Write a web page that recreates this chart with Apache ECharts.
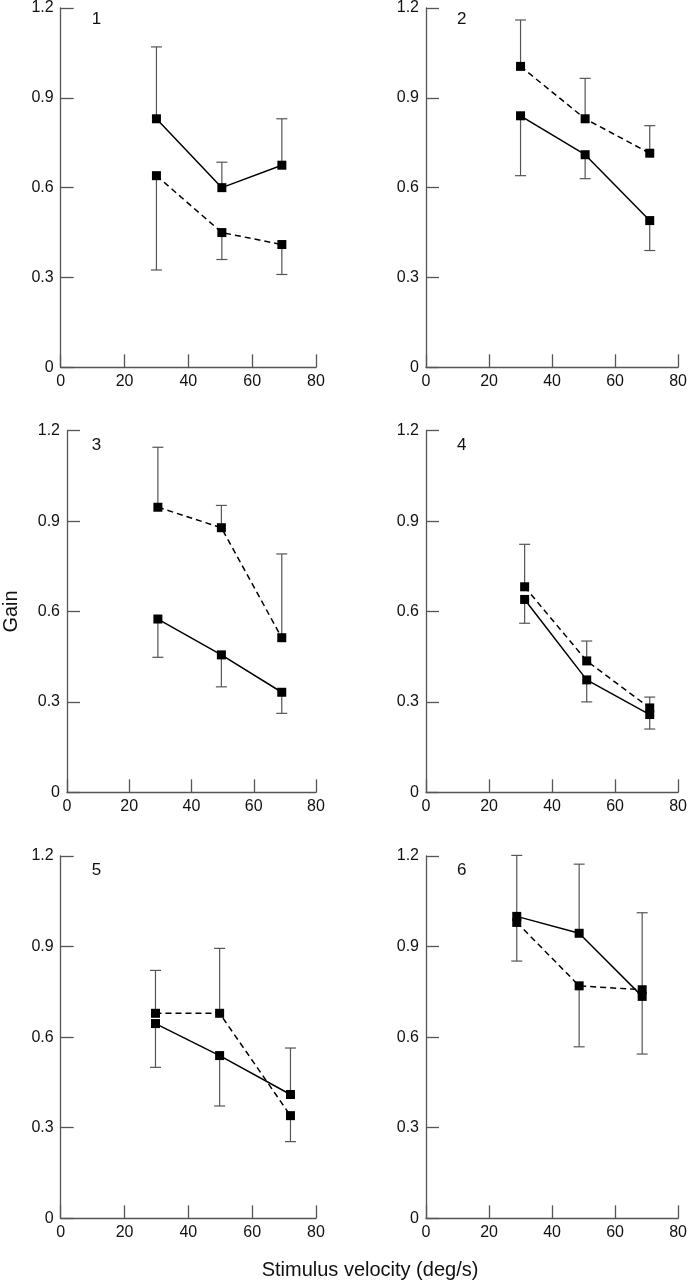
<!DOCTYPE html>
<html>
<head>
<meta charset="utf-8">
<script src="https://cdn.jsdelivr.net/npm/echarts@6/dist/echarts.min.js"></script>
<style>
html,body{margin:0;padding:0;background:#fff;}
#c{width:690px;height:1280px;}
</style>
</head>
<body>
<div id="c"></div>
<script>
// ---- data ----
const panelNames = ['1', '2', '3', '4', '5', '6'];
const xTicks = [0, 20, 40, 60, 80];
const yTicks = [0, 0.3, 0.6, 0.9, 1.2];

// stimulus velocity (deg/s) of each point, per panel
const velocity = [
  [30, 50.5, 69.3],
  [30, 50.5, 71],
  [29.2, 49.6, 69],
  [31.3, 51, 71],
  [29.7, 49.8, 72],
  [28.8, 48.6, 68.6]
];
// solid-line gain, per panel
const solidGain = [
  [0.83, 0.60, 0.675],
  [0.84, 0.71, 0.49],
  [0.575, 0.456, 0.332],
  [0.64, 0.373, 0.258],
  [0.645, 0.539, 0.41],
  [1.0, 0.944, 0.735]
];
// end of the solid-line error bar
const solidErrEnd = [
  [1.07, 0.685, 0.83],
  [0.64, 0.63, 0.39],
  [0.448, 0.35, 0.262],
  [0.561, 0.30, 0.21],
  [0.50, 0.372, 0.564],
  [1.202, 1.173, 1.012]
];
// dashed-line gain, per panel
const dashedGain = [
  [0.64, 0.45, 0.41],
  [1.005, 0.83, 0.715],
  [0.946, 0.878, 0.513],
  [0.682, 0.436, 0.28],
  [0.679, 0.679, 0.34],
  [0.98, 0.77, 0.757]
];
// end of the dashed-line error bar
const dashedErrEnd = [
  [0.325, 0.36, 0.31],
  [1.16, 0.965, 0.807],
  [1.145, 0.952, 0.791],
  [0.823, 0.502, 0.316],
  [0.821, 0.894, 0.254],
  [0.852, 0.568, 0.544]
];
const xAxisTitle = 'Stimulus velocity (deg/s)';
const yAxisTitle = 'Gain';

// ---- layout ----
const colLeft = [60.7, 426];
const colWidth = [255.3, 255.7];
const rowTop = [5, 430.7, 856];
const rowHeight = [362.3, 361.6, 362.3];
const axisColor = '#555';
const errColor = '#555';

const chart = echarts.init(document.getElementById('c'), null, {renderer: 'canvas'});

const grids = [], xAxes = [], yAxes = [], series = [], titles = [];

function errRender(params, api) {
  const p = api.coord([api.value(0), api.value(1)]);
  const e = api.coord([api.value(0), api.value(2)]);
  const cap = 5.5;
  const st = {stroke: errColor, lineWidth: 1.2};
  return {
    type: 'group',
    children: [
      {type: 'line', shape: {x1: p[0], y1: p[1], x2: e[0], y2: e[1]}, style: st},
      {type: 'line', shape: {x1: e[0] - cap, y1: e[1], x2: e[0] + cap, y2: e[1]}, style: st}
    ]
  };
}

for (let i = 0; i < 6; i++) {
  const col = i % 2, row = Math.floor(i / 2);
  grids.push({left: colLeft[col], top: rowTop[row], width: colWidth[col], height: rowHeight[row], containLabel: false});
  xAxes.push({
    gridIndex: i, type: 'value',
    min: xTicks[0], max: xTicks[xTicks.length - 1], interval: xTicks[1] - xTicks[0],
    axisLine: {show: true, onZero: false, lineStyle: {color: axisColor, width: 1.3}},
    axisTick: {show: true, inside: true, length: 13, lineStyle: {color: axisColor, width: 1.3}},
    axisLabel: {show: true, fontSize: 16, color: '#111', margin: 6, fontFamily: 'Liberation Sans, Arial, sans-serif'},
    splitLine: {show: false}
  });
  yAxes.push({
    gridIndex: i, type: 'value',
    min: yTicks[0], max: yTicks[yTicks.length - 1], interval: yTicks[1] - yTicks[0],
    axisLine: {show: true, onZero: false, lineStyle: {color: axisColor, width: 1.3}},
    axisTick: {show: true, inside: true, length: 13, lineStyle: {color: axisColor, width: 1.3}},
    axisLabel: {show: true, fontSize: 16, color: '#111', margin: 7, fontFamily: 'Liberation Sans, Arial, sans-serif',
      formatter: v => String(Math.round(v * 10) / 10)},
    splitLine: {show: false},
    name: i === 2 ? yAxisTitle : '',
    nameLocation: 'middle', nameGap: 46, nameRotate: 90,
    nameTextStyle: {fontSize: 20, color: '#111', fontFamily: 'Liberation Sans, Arial, sans-serif'}
  });
  titles.push({
    text: panelNames[i],
    left: colLeft[col] + 26, top: rowTop[row] + 1,
    textStyle: {fontSize: 17, fontWeight: 'normal', color: '#111', fontFamily: 'Liberation Sans, Arial, sans-serif'}
  });

  const solidData = velocity[i].map((x, k) => [x, solidGain[i][k]]);
  const dashedData = velocity[i].map((x, k) => [x, dashedGain[i][k]]);
  const solidErr = velocity[i].map((x, k) => [x, solidGain[i][k], solidErrEnd[i][k]]);
  const dashedErr = velocity[i].map((x, k) => [x, dashedGain[i][k], dashedErrEnd[i][k]]);

  series.push({type: 'custom', xAxisIndex: i, yAxisIndex: i, renderItem: errRender, data: solidErr, z: 1, silent: true});
  series.push({type: 'custom', xAxisIndex: i, yAxisIndex: i, renderItem: errRender, data: dashedErr, z: 1, silent: true});
  series.push({
    type: 'line', xAxisIndex: i, yAxisIndex: i, data: dashedData, z: 3,
    symbol: 'rect', symbolSize: 9, showSymbol: true,
    lineStyle: {color: '#000', width: 1.5, type: [6, 4]},
    itemStyle: {color: '#000'}
  });
  series.push({
    type: 'line', xAxisIndex: i, yAxisIndex: i, data: solidData, z: 4,
    symbol: 'rect', symbolSize: 9, showSymbol: true,
    lineStyle: {color: '#000', width: 1.5},
    itemStyle: {color: '#000'}
  });
}

chart.setOption({
  animation: false,
  backgroundColor: '#fff',
  title: titles,
  grid: grids,
  xAxis: xAxes,
  yAxis: yAxes,
  series: series,
  graphic: [{
    type: 'text', x: 370, y: 1270,
    style: {text: xAxisTitle, fontSize: 20, fill: '#111', align: 'center', verticalAlign: 'middle',
      fontFamily: 'Liberation Sans, Arial, sans-serif'}
  }]
});
</script>
</body>
</html>
